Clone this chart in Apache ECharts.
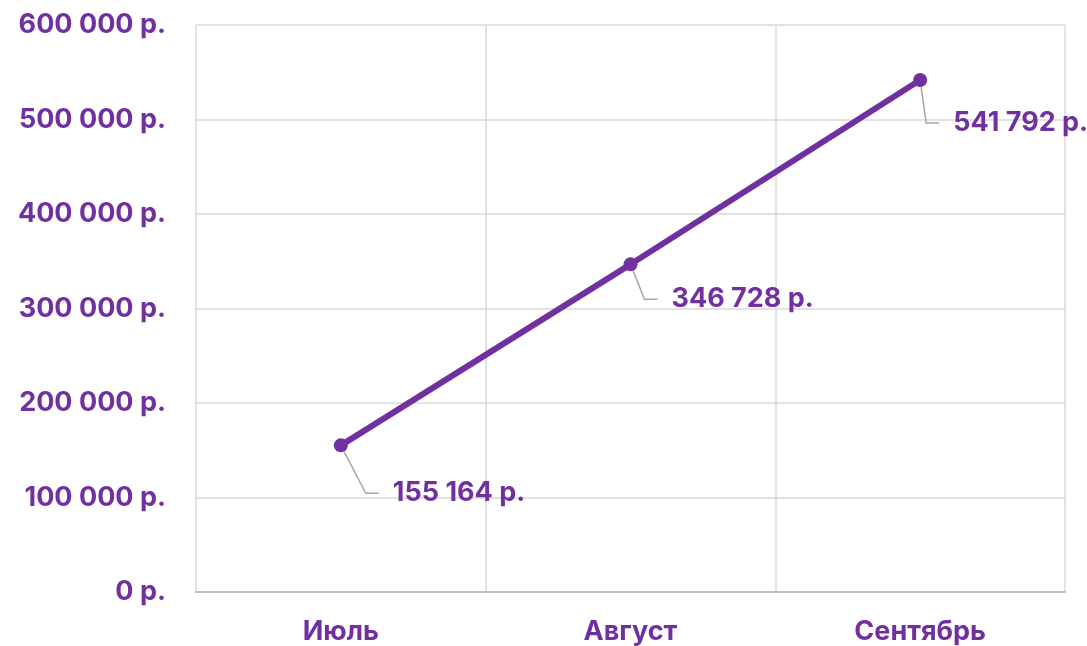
<!DOCTYPE html>
<html><head><meta charset="utf-8">
<script src="https://cdn.jsdelivr.net/npm/echarts@6/dist/echarts.min.js"></script>
<style>html,body{margin:0;padding:0;background:#fff}#c{width:1087px;height:646px}</style>
</head><body><div id="c"></div>
<script>
const categories = ['Июль', 'Август', 'Сентябрь'];
const values = [155164, 346728, 541792];
const yTicks = [0, 100000, 200000, 300000, 400000, 500000, 600000];
const labelOffsets = [[31, 48], [20, 35], [12, 43]];

const purple = '#7030A0';
const fmt = v => String(v).replace(/\B(?=(\d{3})+(?!\d))/g, ' ') + ' р.';
const font = 'Inter';

const chart = echarts.init(document.getElementById('c'));
chart.setOption({
  animation: false,
  grid: { left: 196, right: 22, top: 25, bottom: 54 },
  xAxis: {
    type: 'category', data: categories, boundaryGap: true,
    axisLine: { show: true, lineStyle: { color: '#bfbfbf', width: 2 } },
    axisTick: { show: false },
    splitLine: { show: true, lineStyle: { color: '#d9d9d9', width: 1.5 } },
    axisLabel: { color: purple, fontSize: 27, fontWeight: 700, fontFamily: font, margin: 26 }
  },
  yAxis: {
    type: 'value', min: yTicks[0], max: yTicks[yTicks.length - 1], interval: 100000,
    axisLine: { show: false }, axisTick: { show: false },
    splitLine: { show: true, lineStyle: { color: '#d9d9d9', width: 1.5 } },
    axisLabel: { color: purple, fontSize: 27, fontWeight: 700, fontFamily: font, margin: 30, formatter: fmt }
  },
  series: [{
    type: 'line', data: values,
    lineStyle: { color: purple, width: 6 },
    itemStyle: { color: purple },
    symbol: 'circle', symbolSize: 14,
    label: {
      show: true, position: 'right', distance: 0, padding: [0, 0, 0, 14],
      backgroundColor: 'rgba(255,255,255,0)',
      color: purple, fontSize: 27, fontWeight: 700, fontFamily: font,
      formatter: p => fmt(p.value)
    },
    labelLine: { show: true, lineStyle: { color: '#a6a6a6', width: 1.5 }, length2: 13 },
    labelLayout: p => ({ dx: labelOffsets[p.dataIndex][0], dy: labelOffsets[p.dataIndex][1] })
  }]
});
</script></body></html>
